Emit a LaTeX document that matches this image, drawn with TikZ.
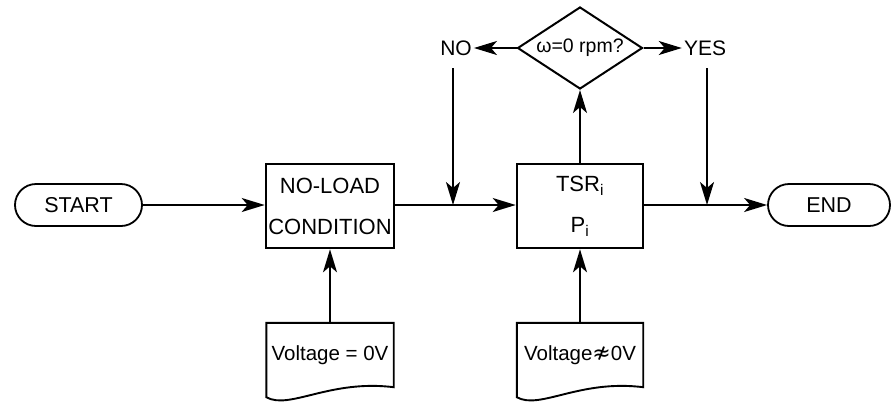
\documentclass[tikz,border=0pt]{standalone}
\usepackage{fontspec}
\setmainfont{Liberation Sans}
\newfontfamily\dejavu{DejaVu Sans}
\usetikzlibrary{arrows.meta,shapes.geometric}
\begin{document}
\begin{tikzpicture}[x=1pt,y=-1pt,
  term/.style={draw, line width=1.8pt, rounded corners=21pt, minimum width=127pt, minimum height=42pt, inner sep=0pt, font=\fontsize{21.5}{24}\selectfont},
  procbox/.style={draw, line width=2.6pt, minimum width=128pt, minimum height=84pt, inner sep=0pt, align=center, font=\fontsize{22}{41}\selectfont},
  decision/.style={diamond, draw, line width=2pt, minimum width=125pt, minimum height=82pt, inner sep=0pt, aspect=1.5, font=\fontsize{19.5}{22}\selectfont},
  label/.style={inner sep=2pt, font=\fontsize{21}{24}\selectfont},
  docnode/.style={minimum width=127pt, minimum height=64pt, inner sep=0pt, font=\fontsize{20.5}{24}\selectfont},
  docline/.style={line width=1.9pt, line join=miter},
  arr/.style={line width=1.9pt, -{Stealth[length=23pt,width=14pt,inset=6pt]}},
]
\useasboundingbox (0,0) rectangle (893,405);

\node[term] (start) at (78.5,205) {START};
\node[procbox] (noload) at (330,206) {NO-LOAD\\CONDITION};
\node[procbox, minimum width=126pt] (tsr) at (580,206) {TSR\textsubscript{i}\\P\textsubscript{i}};
\node[term, minimum width=122pt] (end) at (829,205) {END};
\node[decision] (dia) at (580,48) {ω=0 rpm?};
\node[label] (no) at (456,48) {NO};
\node[label] (yes) at (705,48) {YES};
\node[docnode] (doc1) at (330,355) {Voltage = 0V};
\node[docnode, minimum width=126pt] (doc2) at (580,355) {Voltage{\dejavu\fontsize{22}{24}\selectfont ≉}0V};

\coordinate (n1) at (453,68);
\coordinate (j1) at (453,205);
\coordinate (y1) at (707,68);
\coordinate (j2) at (707,205);

% documents outline
\draw[docline] ([yshift=-10pt]doc1.south west) -- (doc1.north west) -- (doc1.north east) -- (doc1.south east)
  .. controls +(-64,-8) and +(23,13) .. ([yshift=-10pt]doc1.south west) -- cycle;
\draw[docline] ([yshift=-10pt]doc2.south west) -- (doc2.north west) -- (doc2.north east) -- (doc2.south east)
  .. controls +(-64,-8) and +(23,13) .. ([yshift=-10pt]doc2.south west) -- cycle;

% connectors
\draw[arr] (start.east) -- (noload.west |- start.east);
\draw[arr] (noload.east |- start.east) -- (tsr.west |- start.east);
\draw[arr] (tsr.east |- end.west) -- (end.west);
\draw[arr] (n1) -- (j1);
\draw[arr] (y1) -- (j2);
\draw[arr] (tsr.north) -- (dia.south);
\draw[arr] (dia.west) -- (no.east);
\draw[arr] (dia.east) -- (yes.west);
\draw[arr] (doc1.north) -- (noload.south);
\draw[arr] (doc2.north) -- (tsr.south);
\end{tikzpicture}
\end{document}
